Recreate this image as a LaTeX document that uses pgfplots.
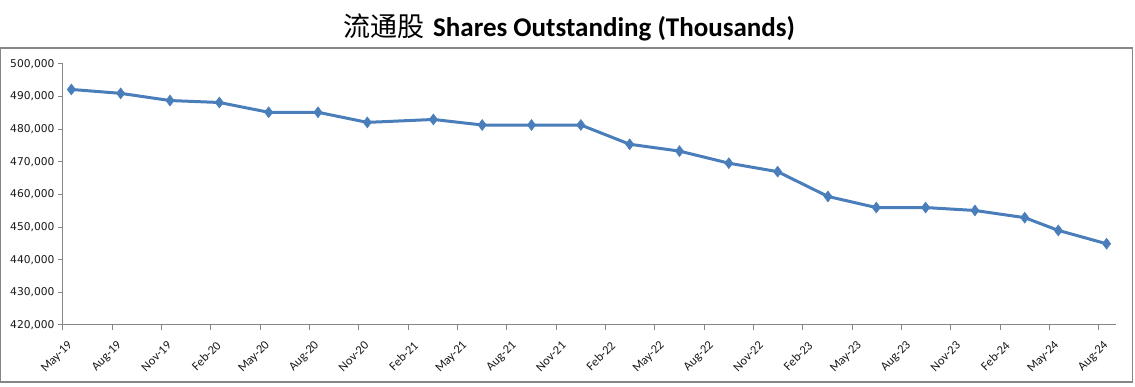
\documentclass[border=0pt]{standalone}
\usepackage{fontspec}
\usepackage{pgfplots}
\pgfplotsset{compat=1.18}
\newfontfamily\cjk{Noto Sans CJK SC}
\newfontfamily\carlito{Carlito}
\newfontfamily\dejavu{DejaVu Sans}
\definecolor{linec}{RGB}{74,126,187}
\definecolor{axgray}{RGB}{134,134,134}
\pgfplotstableread{
x y
0.17 492200
1.17 491000
2.17 488800
3.17 488200
4.17 485200
5.17 485200
6.17 482100
7.51 483000
8.50 481300
9.50 481300
10.50 481300
11.49 475400
12.50 473300
13.50 469600
14.49 467000
15.51 459400
16.49 456000
17.49 456000
18.49 455100
19.50 452900
20.18 449000
21.16 444900
}\shares
\begin{document}
\begin{tikzpicture}[x=1pt,y=1pt]
\useasboundingbox (-63,-62) rectangle (1072,325);
\draw[axgray, line width=1.2pt] (-62.5,-57) rectangle (1069.5,277);
\node[font=\fontsize{27}{31}\selectfont] at (506.5,298) {{\cjk 流通股} {\carlito\bfseries Shares Outstanding (Thousands)}};
\begin{axis}[
  at={(0,0)}, anchor=south west,
  scale only axis, width=1053pt, height=261pt,
  xmin=0, xmax=21.35, ymin=420000, ymax=500000,
  ytick distance=10000,
  xtick={0,...,21},
  xticklabels={May-19,Aug-19,Nov-19,Feb-20,May-20,Aug-20,Nov-20,Feb-21,May-21,Aug-21,Nov-21,Feb-22,May-22,Aug-22,Nov-22,Feb-23,May-23,Aug-23,Nov-23,Feb-24,May-24,Aug-24},
  axis lines*=left,
  axis line style={axgray, line width=1pt, -},
  tick style={axgray, line width=1pt},
  tick align=outside,
  major tick length=5pt,
  scaled y ticks=false,
  /pgf/number format/assume math mode=true,
  /pgf/number format/.cd, fixed, 1000 sep={,}, /pgfplots/.cd,
  x tick label style={xshift=10pt, yshift=-11pt, rotate=45, anchor=east, font=\carlito\fontsize{12.5}{14}\selectfont, text=black!90},
  y tick label style={font=\dejavu\fontsize{10.7}{13}\selectfont, text=black!90},
  clip=false,
]
\addplot[linec, line width=3pt, mark=diamond*, mark size=5.5pt, mark options={fill=linec, draw=linec, line width=0.5pt}] table {\shares};
\end{axis}
\end{tikzpicture}
\end{document}
